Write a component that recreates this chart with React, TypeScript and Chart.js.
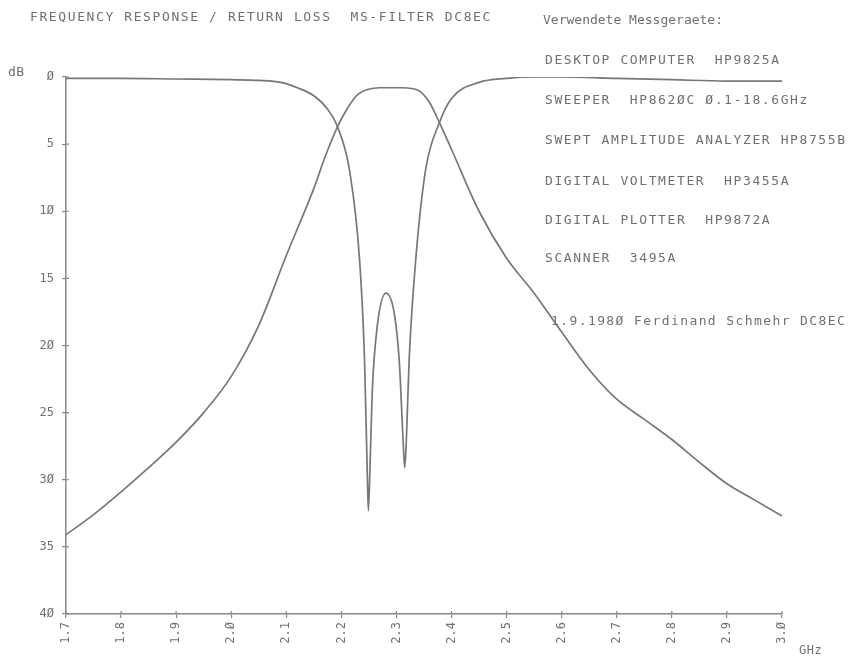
import React, { useEffect, useRef } from "react";
import { Chart, registerables } from "chart.js";

Chart.register(...registerables);

// Frequency ticks (GHz) and their plotter-style labels
const xTickValues = [1.7, 1.8, 1.9, 2.0, 2.1, 2.2, 2.3, 2.4, 2.5, 2.6, 2.7, 2.8, 2.9, 3.0];
const xTickLabels = ["1.7", "1.8", "1.9", "2.Ø", "2.1", "2.2", "2.3", "2.4", "2.5", "2.6", "2.7", "2.8", "2.9", "3.Ø"];
const yTickValues = [0, 5, 10, 15, 20, 25, 30, 35, 40];
const yTickLabels = ["Ø", "5", "1Ø", "15", "2Ø", "25", "3Ø", "35", "4Ø"];

// Frequency response (transmission) in dB attenuation
const transFreq = [1.7, 1.75, 1.8, 1.85, 1.9, 1.95, 2.0, 2.05, 2.1, 2.15, 2.17, 2.193, 2.21, 2.23, 2.27, 2.31, 2.34, 2.36, 2.378, 2.4, 2.45, 2.5, 2.55, 2.6, 2.65, 2.7, 2.75, 2.8, 2.85, 2.9, 2.95, 3.0];
const transLoss = [34.1, 32.6, 30.9, 29.1, 27.2, 25.0, 22.3, 18.5, 13.3, 8.3, 6.0, 3.7, 2.4, 1.3, 0.8, 0.8, 1.0, 1.9, 3.4, 5.4, 10.0, 13.5, 16.1, 19.0, 21.8, 24.0, 25.5, 27.0, 28.7, 30.3, 31.5, 32.7];

// Return loss in dB
const reflFreq = [1.7, 1.8, 1.9, 2.0, 2.05, 2.09, 2.12, 2.15, 2.175, 2.193, 2.215, 2.233, 2.242, 2.247, 2.249, 2.252, 2.256, 2.265, 2.281, 2.296, 2.305, 2.312, 2.315, 2.318, 2.323, 2.335, 2.353, 2.378, 2.4, 2.45, 2.5, 2.55, 2.6, 2.7, 2.8, 2.9, 3.0];
const reflLoss = [0.1, 0.1, 0.15, 0.2, 0.25, 0.4, 0.8, 1.4, 2.4, 3.7, 7.0, 13.6, 21.0, 29.5, 32.3, 29.0, 23.5, 18.6, 16.1, 17.6, 21.1, 27.0, 29.1, 27.0, 21.1, 13.6, 6.9, 3.4, 1.6, 0.4, 0.1, 0.0, 0.0, 0.1, 0.2, 0.3, 0.3];

const titleText = "FREQUENCY RESPONSE / RETURN LOSS  MS-FILTER DC8EC";
const equipmentHeader = "Verwendete Messgeraete:";
const equipmentLines = [
  "DESKTOP COMPUTER  HP9825A",
  "SWEEPER  HP862ØC Ø.1-18.6GHz",
  "SWEPT AMPLITUDE ANALYZER HP8755B",
  "DIGITAL VOLTMETER  HP3455A",
  "DIGITAL PLOTTER  HP9872A",
  "SCANNER  3495A",
];
const signatureText = "1.9.198Ø Ferdinand Schmehr DC8EC";

const INK = "#707070";
const FONT = "'DejaVu Sans Mono', 'Liberation Mono', monospace";

const innerTicks = {
  id: "innerTicks",
  afterDraw(chart: any) {
    const { ctx, chartArea, scales } = chart;
    ctx.save();
    ctx.strokeStyle = "#888";
    ctx.lineWidth = 1.2;
    ctx.beginPath();
    scales.x.ticks.forEach((t: any) => {
      const px = scales.x.getPixelForValue(t.value);
      ctx.moveTo(px, chartArea.bottom);
      ctx.lineTo(px, chartArea.bottom - 3);
    });
    scales.y.ticks.forEach((t: any) => {
      const py = scales.y.getPixelForValue(t.value);
      ctx.moveTo(chartArea.left, py);
      ctx.lineTo(chartArea.left + 3, py);
    });
    ctx.stroke();
    ctx.restore();
  },
};

export default function App() {
  const ref = useRef<HTMLCanvasElement | null>(null);

  useEffect(() => {
    document.body.style.margin = "0";
    const canvas = ref.current;
    if (!canvas) return;
    const chart = new Chart(canvas, {
      type: "line",
      data: {
        datasets: [
          {
            label: "Frequency response",
            data: transFreq.map((f, i) => ({ x: f, y: transLoss[i] })),
            borderColor: "#777",
            borderWidth: 1.7,
            pointRadius: 0,
            fill: false,
            cubicInterpolationMode: "monotone",
          },
          {
            label: "Return loss",
            data: reflFreq.map((f, i) => ({ x: f, y: reflLoss[i] })),
            borderColor: "#777",
            borderWidth: 1.7,
            pointRadius: 0,
            fill: false,
            cubicInterpolationMode: "monotone",
          },
        ],
      },
      options: {
        animation: false,
        responsive: false,
        devicePixelRatio: 1,
        layout: { padding: { left: 0, top: 77, right: 69, bottom: 0 } },
        plugins: { legend: { display: false }, tooltip: { enabled: false } },
        scales: {
          x: {
            type: "linear",
            min: 1.7,
            max: 3.0,
            afterBuildTicks: (scale: any) => {
              scale.ticks = xTickValues.map((v) => ({ value: v }));
            },
            afterFit: (scale: any) => {
              scale.height = 43;
            },
            ticks: {
              autoSkip: false,
              minRotation: 90,
              maxRotation: 90,
              padding: 4,
              color: INK,
              font: { family: FONT, size: 12 },
              callback: (_v: any, i: number) => xTickLabels[i],
            },
            grid: { drawOnChartArea: false, drawTicks: true, tickLength: 4, color: "#888", lineWidth: 1.2 },
            border: { color: "#888", width: 1.5 },
          },
          y: {
            type: "linear",
            reverse: true,
            min: 0,
            max: 40,
            afterBuildTicks: (scale: any) => {
              scale.ticks = yTickValues.map((v) => ({ value: v }));
            },
            afterFit: (scale: any) => {
              scale.width = 66;
            },
            ticks: {
              autoSkip: false,
              padding: 8,
              color: INK,
              font: { family: FONT, size: 12 },
              callback: (_v: any, i: number) => yTickLabels[i],
            },
            grid: { drawOnChartArea: false, drawTicks: true, tickLength: 4, color: "#888", lineWidth: 1.2 },
            border: { color: "#888", width: 1.5 },
          },
        },
      },
      plugins: [innerTicks],
    });
    return () => chart.destroy();
  }, []);

  const textStyle: React.CSSProperties = {
    position: "absolute",
    fontFamily: FONT,
    fontSize: 13,
    lineHeight: "14px",
    color: INK,
    whiteSpace: "pre",
    letterSpacing: "1.6px",
  };
  const lineYs = [60, 100, 140, 181, 220, 258];

  return (
    <div style={{ position: "relative", width: 851, height: 657, background: "#fff", overflow: "hidden" }}>
      <canvas ref={ref} width={851} height={657} style={{ position: "absolute", left: 0, top: 0 }} />
      <div style={{ ...textStyle, left: 30, top: 17 - 7 }}>{titleText}</div>
      <div style={{ ...textStyle, left: 543, top: 20 - 7, letterSpacing: "0px" }}>{equipmentHeader}</div>
      {equipmentLines.map((t, i) => (
        <div key={t} style={{ ...textStyle, left: 545, top: lineYs[i] - 7 }}>{t}</div>
      ))}
      <div style={{ ...textStyle, left: 551, top: 321 - 7, letterSpacing: "1.4px" }}>{signatureText}</div>
      <div style={{ ...textStyle, left: 8, top: 72 - 7, letterSpacing: "0.5px" }}>dB</div>
      <div style={{ ...textStyle, left: 799, top: 650 - 7, letterSpacing: "0.5px", fontSize: 12 }}>GHz</div>
    </div>
  );
}
